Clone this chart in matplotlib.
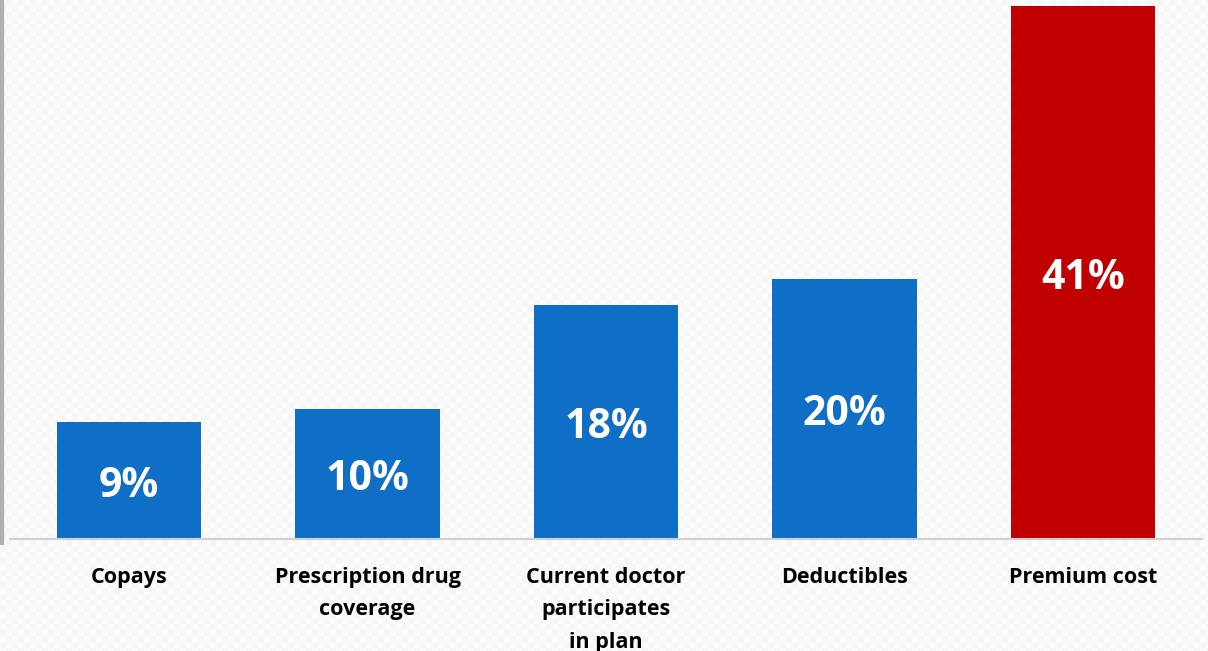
import matplotlib
matplotlib.use("Agg")
import matplotlib.pyplot as plt
import numpy as np
from matplotlib.lines import Line2D

categories = ["Copays", "Prescription drug\ncoverage", "Current doctor\nparticipates\nin plan",
              "Deductibles", "Premium cost"]
values = [9, 10, 18, 20, 41]
labels = ["9%", "10%", "18%", "20%", "41%"]
colors = ["#0F6FC6", "#0F6FC6", "#0F6FC6", "#0F6FC6", "#C00000"]

W, H = 1208, 651
fig = plt.figure(figsize=(W / 100, H / 100), dpi=100)
fig.patch.set_facecolor("#fbfbfb")

# faint checker background
yy, xx = np.mgrid[0:H, 0:W]
chk = (((xx // 6) + (yy // 6)) % 2).astype(float)
img = np.ones((H, W, 3)) * (0.985 - 0.02 * chk)[..., None]
fig.figimage(img, 0, 0, zorder=-10)

ax = fig.add_axes([10 / W, (H - 539) / H, (1202 - 10) / W, 539 / H])
ax.set_facecolor("none")
x = np.arange(len(values))
ax.bar(x, values, width=0.605, color=colors, zorder=2)
ax.set_xlim(-0.5, 4.5)
ax.set_ylim(0, 41.5)
for s in ["top", "right", "left"]:
    ax.spines[s].set_visible(False)
ax.spines["bottom"].set_color("#d0d0d0")
ax.spines["bottom"].set_linewidth(1.5)
ax.set_yticks([])
ax.set_xticks(x)
ax.set_xticklabels(categories, fontsize=15.5, fontweight="bold", family="Open Sans",
                   linespacing=1.72, va="top")
ax.tick_params(axis="x", length=0, pad=20)

for xi, v, lab in zip(x, values, labels):
    ax.text(xi, v / 2 - 0.45, lab, ha="center", va="center", color="white",
            fontsize=29.5, fontweight="bold", family="Open Sans", zorder=3)

fig.add_artist(Line2D([1.5 / W, 1.5 / W], [(H - 543) / H, 1], transform=fig.transFigure,
                      color="#b0b0b0", linewidth=3))

fig.savefig("out.png", dpi=100, facecolor=fig.get_facecolor())
